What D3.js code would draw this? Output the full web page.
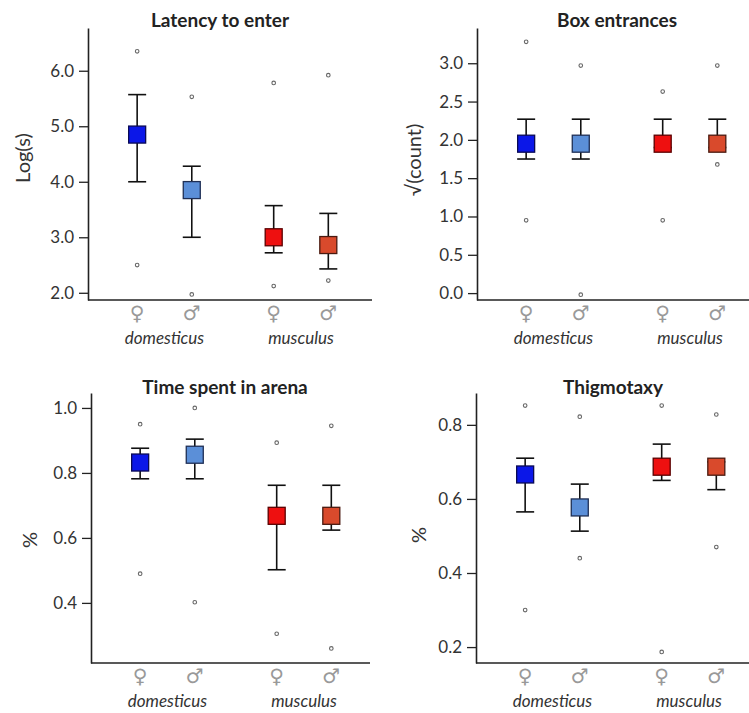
<!DOCTYPE html>
<html>
<head>
<meta charset="utf-8">
<script src="https://cdn.jsdelivr.net/npm/d3@7"></script>
<style>
  body { margin: 0; background: #fff; }
  svg { display: block; }
</style>
</head>
<body>
<div id="chart"></div>
<script>
// group order: female domesticus, male domesticus, female musculus, male musculus
const sexes = ['♀', '♂', '♀', '♂'];
const species = ['domesticus', 'musculus'];
const groupPos = [1, 2, 3.5, 4.5];
const groupFill = ['#0b17e8', '#5b8fd8', '#ee1010', '#d94a2c'];
const groupStroke = ['#0a0a55', '#1f2f55', '#5a0000', '#4a1a10'];

// Latency to enter
const latencyMean = [4.85, 3.85, 3.0, 2.86];
const latencyHi = [5.57, 4.28, 3.57, 3.43];
const latencyLo = [4.0, 3.0, 2.72, 2.43];
const latencyOutHi = [6.35, 5.53, 5.78, 5.92];
const latencyOutLo = [2.5, 1.97, 2.12, 2.22];
const latencyTicks = [2.0, 3.0, 4.0, 5.0, 6.0];

// Box entrances
const entranceMean = [1.95, 1.95, 1.95, 1.95];
const entranceHi = [2.27, 2.27, 2.27, 2.27];
const entranceLo = [1.75, 1.75, 1.9, 1.9];
const entranceOutHi = [3.28, 2.97, 2.63, 2.97];
const entranceOutLo = [0.95, -0.02, 0.95, 1.68];
const entranceTicks = [0.0, 0.5, 1.0, 1.5, 2.0, 2.5, 3.0];

// Time spent in arena
const arenaMean = [0.832, 0.856, 0.668, 0.668];
const arenaHi = [0.876, 0.904, 0.762, 0.762];
const arenaLo = [0.782, 0.782, 0.502, 0.624];
const arenaOutHi = [0.95, 1.0, 0.893, 0.945];
const arenaOutLo = [0.49, 0.402, 0.305, 0.26];
const arenaTicks = [0.4, 0.6, 0.8, 1.0];

// Thigmotaxy
const thigmoMean = [0.666, 0.577, 0.687, 0.687];
const thigmoHi = [0.71, 0.64, 0.748, 0.70];
const thigmoLo = [0.565, 0.513, 0.65, 0.625];
const thigmoOutHi = [0.852, 0.822, 0.852, 0.828];
const thigmoOutLo = [0.30, 0.44, 0.187, 0.47];
const thigmoTicks = [0.2, 0.4, 0.6, 0.8];

let panels = [
  { title: 'Latency to enter', ylabel: 'Log(s)', mean: latencyMean, hi: latencyHi, lo: latencyLo,
    outHi: latencyOutHi, outLo: latencyOutLo, ticks: latencyTicks, domain: [1.87, 6.77],
    left: 88, right: 372, top: 28, bottom: 300, titleX: 220, titleY: 27, labelX: 22, labelY: 158 },
  { title: 'Box entrances', ylabel: '√(count)', mean: entranceMean, hi: entranceHi, lo: entranceLo,
    outHi: entranceOutHi, outLo: entranceOutLo, ticks: entranceTicks, domain: [-0.09, 3.46],
    left: 477, right: 749, top: 28, bottom: 300, titleX: 617, titleY: 27, labelX: 413, labelY: 160 },
  { title: 'Time spent in arena', ylabel: '%', mean: arenaMean, hi: arenaHi, lo: arenaLo,
    outHi: arenaOutHi, outLo: arenaOutLo, ticks: arenaTicks, domain: [0.215, 1.046],
    left: 91, right: 370, top: 393, bottom: 663, titleX: 225, titleY: 394, labelX: 29, labelY: 540 },
  { title: 'Thigmotaxy', ylabel: '%', mean: thigmoMean, hi: thigmoHi, lo: thigmoLo,
    outHi: thigmoOutHi, outLo: thigmoOutLo, ticks: thigmoTicks, domain: [0.157, 0.886],
    left: 476, right: 749, top: 393, bottom: 663, titleX: 613, titleY: 394, labelX: 418, labelY: 535 }
];

const BOX = 17;
const CAP = 18;

let svg = d3.select('#chart')
  .append('svg')
  .attr('width', 749)
  .attr('height', 713)
  .style('font-family', 'Lato, "Open Sans", sans-serif');

panels.forEach((p) => {
  let g = svg.append('g');

  // same group spacing in every panel
  let xscale = d3.scaleLinear()
    .domain([0.1, 5.3])
    .range([p.left, p.left + 284]);

  let yscale = d3.scaleLinear()
    .domain(p.domain)
    .range([p.bottom, p.top]);

  // y axis
  let leftAxis = d3.axisLeft(yscale)
    .tickValues(p.ticks)
    .tickFormat(d3.format('.1f'))
    .tickSize(9)
    .tickSizeOuter(0)
    .tickPadding(5);

  let yaxis = g.append('g')
    .attr('transform', `translate(${p.left},0)`)
    .call(leftAxis);
  yaxis.select('.domain').attr('stroke', '#222').attr('stroke-width', 1.6);
  yaxis.selectAll('.tick line').attr('stroke', '#222').attr('stroke-width', 1.3);
  yaxis.selectAll('.tick text')
    .attr('fill', '#333')
    .style('font-family', 'Lato, sans-serif')
    .style('font-size', '17px');

  // x axis (plain line)
  g.append('line')
    .attr('x1', p.left)
    .attr('x2', p.right)
    .attr('y1', p.bottom)
    .attr('y2', p.bottom)
    .attr('stroke', '#222')
    .attr('stroke-width', 1.6);

  // title
  g.append('text')
    .attr('x', p.titleX)
    .attr('y', p.titleY)
    .attr('text-anchor', 'middle')
    .style('font-size', '19px')
    .style('font-weight', 'bold')
    .attr('fill', '#222')
    .text(p.title);

  // y label
  g.append('text')
    .attr('transform', `translate(${p.labelX},${p.labelY}) rotate(-90)`)
    .attr('text-anchor', 'middle')
    .attr('dominant-baseline', 'central')
    .style('font-size', '20px')
    .attr('fill', '#333')
    .text(p.ylabel);

  let idx = d3.range(4);

  // outlier dots
  idx.forEach((i) => {
    [p.outHi[i], p.outLo[i]].forEach((v) => {
      g.append('circle')
        .attr('cx', xscale(groupPos[i]))
        .attr('cy', yscale(v))
        .attr('r', 1.8)
        .attr('fill', '#fff')
        .attr('stroke', '#666')
        .attr('stroke-width', 1.1);
    });
  });

  // whiskers
  let whisk = g.selectAll('.whisk')
    .data(idx)
    .enter()
    .append('g')
    .attr('class', 'whisk')
    .attr('stroke', '#111')
    .attr('stroke-width', 1.6);

  whisk.append('line')
    .attr('x1', (i) => xscale(groupPos[i]))
    .attr('x2', (i) => xscale(groupPos[i]))
    .attr('y1', (i) => yscale(p.hi[i]))
    .attr('y2', (i) => yscale(p.lo[i]));

  whisk.append('line')
    .attr('x1', (i) => xscale(groupPos[i]) - CAP / 2)
    .attr('x2', (i) => xscale(groupPos[i]) + CAP / 2)
    .attr('y1', (i) => yscale(p.hi[i]))
    .attr('y2', (i) => yscale(p.hi[i]));

  whisk.append('line')
    .attr('x1', (i) => xscale(groupPos[i]) - CAP / 2)
    .attr('x2', (i) => xscale(groupPos[i]) + CAP / 2)
    .attr('y1', (i) => yscale(p.lo[i]))
    .attr('y2', (i) => yscale(p.lo[i]));

  // mean squares
  g.selectAll('.mean')
    .data(idx)
    .enter()
    .append('rect')
    .attr('class', 'mean')
    .attr('x', (i) => xscale(groupPos[i]) - BOX / 2)
    .attr('y', (i) => yscale(p.mean[i]) - BOX / 2)
    .attr('width', BOX)
    .attr('height', BOX)
    .attr('fill', (i) => groupFill[i])
    .attr('stroke', (i) => groupStroke[i])
    .attr('stroke-width', 1.3);

  // sex symbols
  g.selectAll('.sex')
    .data(idx)
    .enter()
    .append('text')
    .attr('x', (i) => xscale(groupPos[i]))
    .attr('y', p.bottom + 13)
    .attr('text-anchor', 'middle')
    .attr('dominant-baseline', 'central')
    .style('font-family', '"DejaVu Sans", sans-serif')
    .style('font-size', '20px')
    .attr('fill', '#999')
    .text((i) => sexes[i]);

  // species labels
  g.selectAll('.species')
    .data(species)
    .enter()
    .append('text')
    .attr('x', (d, j) => (xscale(groupPos[j * 2]) + xscale(groupPos[j * 2 + 1])) / 2)
    .attr('y', p.bottom + 44)
    .style('font-size', '17px')
    .style('font-style', 'italic')
    .attr('text-anchor', 'middle')
    .attr('fill', '#333')
    .text((d) => d);
});
</script>
</body>
</html>
